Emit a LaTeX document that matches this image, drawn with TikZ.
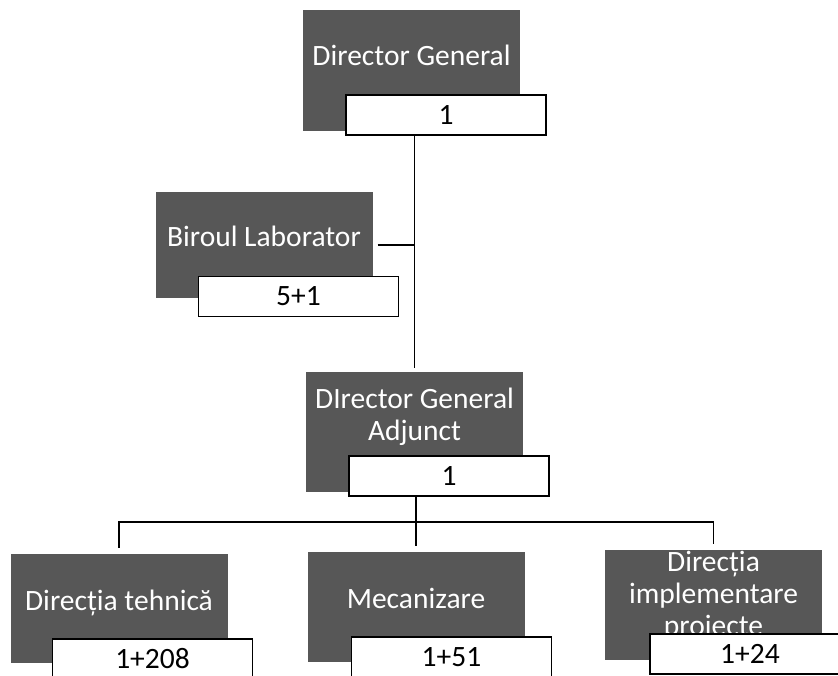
\documentclass[tikz,border=0pt]{standalone}
\usepackage{fontspec}
\setmainfont{Carlito}
\begin{document}
\begin{tikzpicture}[x=1pt,y=-1pt]
    \tikzstyle{sef}=[align=center, minimum width=217pt, rectangle, inner sep=0pt, fill=black!66, text=white, text height=20pt, font=\fontsize{29.5}{32}\selectfont]
    \tikzstyle{nr}=[align=center, minimum width=200pt, minimum height=40pt, rectangle, draw, line width=1.2pt, fill=white, font=\fontsize{29.5}{32}\selectfont]
    \useasboundingbox (0,0) rectangle (838,675);
    \node[sef, minimum height=121pt, text depth=30pt] (N01) at (411.5, 70.5) {Director General};
    \node[nr] (V01) at (446, 115) {1};
    \node[sef, minimum height=106pt, text depth=17pt] (N02) at (264, 245) {Biroul Laborator};
    \node[nr] (V02) at (298.5, 296.5) {5+1};
    \node[sef, minimum height=120pt, text depth=3pt] (N03) at (414.5, 432) {DIrector General\\Adjunct};
    \node[nr] (V03) at (449, 476) {1};
    \node[sef, minimum height=109pt, text depth=16pt] (N04) at (119, 608.5) {Direcția tehnică};
    \node[nr] (V04) at (152.5, 659) {1+208};
    \node[sef, minimum height=110pt, text depth=17pt] (N05) at (416, 607) {Mecanizare};
    \node[nr] (V05) at (451.5, 657) {1+51};
    \node[sef, minimum height=110pt, text height=61pt, text depth=0pt] (N06) at (713.5, 605) {Direcția\\implementare\\proiecte};
    \node[nr] (V06) at (750, 654) {1+24};

    \tikzstyle{link}=[line width=1.6pt]
    \coordinate (B) at (416, 522);
    \draw[link] (V01.south -| N03.north) -- ([yshift=4pt]N03.north);
    \draw[link] ([xshift=5pt]N02.east) -- (N02.east -| N03.north);
    \draw[link] (V03.south -| B) -- (B);
    \draw[link] ([yshift=6pt]N04.north) |- (B) -| ([yshift=6pt]N06.north);
    \draw[link] (B) -- ([yshift=6pt]N05.north);
\end{tikzpicture}
\end{document}
